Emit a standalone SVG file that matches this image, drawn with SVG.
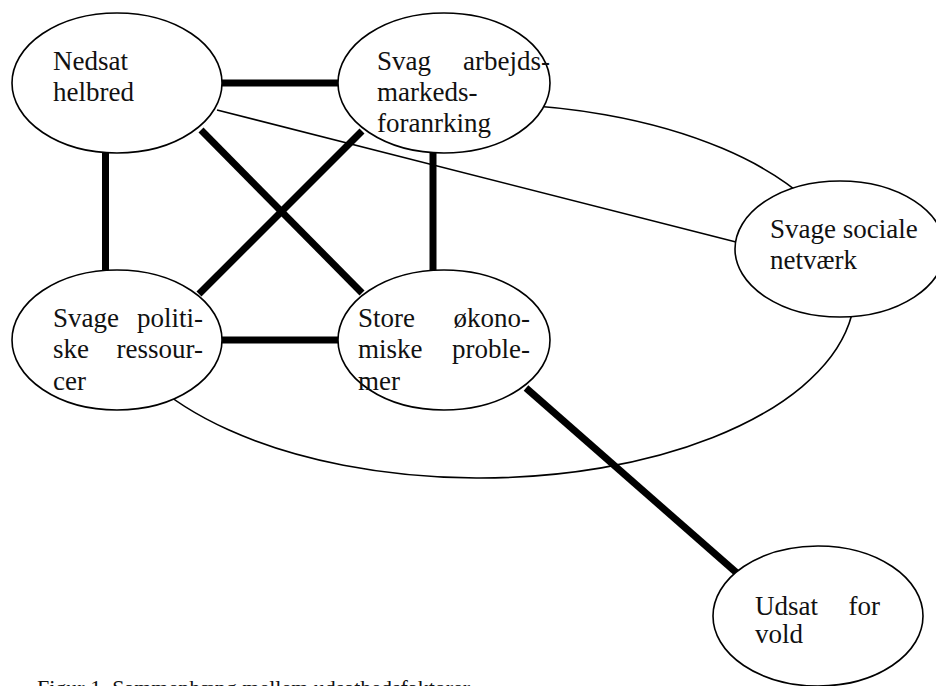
<svg xmlns="http://www.w3.org/2000/svg" width="936" height="686" viewBox="0 0 936 686">
<style>
.node{fill:#fff;stroke:#000;stroke-width:1.6}
.big{fill:none;stroke:#000;stroke-width:1.6}
.thick{stroke:#000;stroke-width:7;fill:none}
.thin{stroke:#000;stroke-width:1.6;fill:none}
text{font-family:"Liberation Serif","Times New Roman",serif;font-size:27px;fill:#111}
.e{text-anchor:end}
.cap{font-size:22px}
</style>
<rect width="936" height="686" fill="#fff"/>
<g id="connectors">
<path class="big" d="M480,104 A375,187 0 1 1 150,380"/>
<line class="thick" x1="222" y1="83" x2="338" y2="83"/>
<line class="thick" x1="105.5" y1="153" x2="105.5" y2="271"/>
<line class="thick" x1="201" y1="130" x2="362" y2="293"/>
<line class="thick" x1="362" y1="131" x2="199" y2="294"/>
<line class="thick" x1="433" y1="153" x2="433" y2="271"/>
<line class="thick" x1="222" y1="340" x2="338" y2="340"/>
<line class="thick" x1="526" y1="388" x2="738" y2="574"/>
<line class="thin" x1="217" y1="110" x2="736" y2="242"/>
</g>
<g id="n1">
<ellipse class="node" cx="117" cy="83" rx="105" ry="70"/>
<text x="53" y="70">Nedsat</text>
<text x="53" y="101">helbred</text>
</g>
<g id="n2">
<ellipse class="node" cx="444" cy="83" rx="106" ry="70"/>
<text x="377" y="70">Svag</text>
<text class="e" x="550" y="70">arbejds-</text>
<text x="377" y="101">markeds-</text>
<text x="377" y="132">foranrking</text>
</g>
<g id="n3">
<ellipse class="node" cx="840" cy="249" rx="105" ry="68"/>
<text x="770" y="238">Svage sociale</text>
<text x="770" y="269">netværk</text>
</g>
<g id="n4">
<ellipse class="node" cx="117" cy="340" rx="105" ry="70"/>
<text x="53" y="327">Svage</text>
<text class="e" x="203" y="327">politi-</text>
<text x="53" y="358">ske</text>
<text class="e" x="203" y="358">ressour-</text>
<text x="53" y="390">cer</text>
</g>
<g id="n5">
<ellipse class="node" cx="444" cy="340" rx="106" ry="70"/>
<text x="358" y="327">Store</text>
<text class="e" x="530" y="327">økono-</text>
<text x="358" y="358">miske</text>
<text class="e" x="530" y="358">proble-</text>
<text x="358" y="390">mer</text>
</g>
<g id="n6">
<ellipse class="node" cx="818" cy="616" rx="105" ry="70"/>
<text x="755" y="615">Udsat</text>
<text class="e" x="880" y="615">for</text>
<text x="755" y="643">vold</text>
</g>
<text class="cap" x="37" y="695">Figur 1. Sammenhæng mellem udsathedsfaktorer</text>
</svg>
